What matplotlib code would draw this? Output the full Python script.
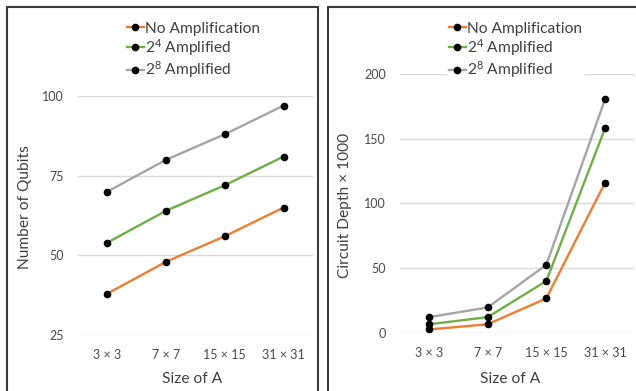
import numpy as np
import matplotlib
matplotlib.use('Agg')
import matplotlib.pyplot as plt
from matplotlib.patches import Rectangle

# data
sizes = ['3 × 3', '7 × 7', '15 × 15', '31 × 31']
series_names = ['No Amplification', '2$^{4}$ Amplified', '2$^{8}$ Amplified']
colors = ['#ED7D31', '#70AD47', '#A5A5A5']

qubits_none = [38, 48, 56, 65]
qubits_amp4 = [54, 64, 72, 81]
qubits_amp8 = [70, 80, 88, 97]

depth_none = [2.5, 6.5, 26.5, 116]
depth_amp4 = [6.5, 12, 40, 158]
depth_amp8 = [12, 19.5, 52.5, 180.5]

plt.rcParams['font.family'] = ['Lato', 'DejaVu Sans']
plt.rcParams['mathtext.default'] = 'regular'

W, H = 636, 391
fig = plt.figure(figsize=(W / 100, H / 100), dpi=100)

def px_axes(x0, x1, ytop, ybot):
      return fig.add_axes([x0 / W, 1 - ybot / H, (x1 - x0) / W, (ybot - ytop) / H])

def style_axes(ax, yticks):
      x = np.arange(len(sizes))
      ax.set_xlim(-0.5, len(sizes) - 0.5)
      ax.set_xticks(x)
      ax.set_xticklabels(sizes)
      ax.set_yticks(yticks)
      for s in ax.spines.values():
            s.set_visible(False)
      ax.tick_params(length=0, labelsize=9, labelcolor='#4A4A4A')
      ax.tick_params(axis='x', pad=10)
      ax.tick_params(axis='y', pad=10)
      ax.grid(axis='y', color='#D9D9D9', linewidth=1)
      ax.set_axisbelow(True)

def draw_lines(ax, data):
      x = np.arange(len(sizes))
      for vals, name, c in zip(data, series_names, colors):
            ax.plot(x, vals, color=c, linewidth=1.7, marker='o', markersize=4.5,
                    markerfacecolor='black', markeredgecolor='black', label=name)

# left panel: qubits
ax1 = px_axes(78, 313, 96, 335)
draw_lines(ax1, [qubits_none, qubits_amp4, qubits_amp8])
ax1.set_ylim(25, 100)
style_axes(ax1, [25, 50, 75, 100])
ax1.set_ylabel('Number of Qubits', fontsize=11.2, color='#404040', va='center')
ax1.yaxis.set_label_coords(-0.2255, 0.5356)
ax1.set_xlabel('Size of A', fontsize=11.2, color='#404040', va='center')
ax1.xaxis.set_label_coords(0.485, -0.184)

# right panel: depth
ax2 = px_axes(399.6, 634.4, 74, 332.7)
draw_lines(ax2, [depth_none, depth_amp4, depth_amp8])
ax2.set_ylim(0, 200)
style_axes(ax2, [0, 50, 100, 150, 200])
ax2.set_ylabel('Circuit Depth × 1000', fontsize=11.2, color='#404040', va='center')
ax2.yaxis.set_label_coords(-0.2325, 0.4936)
ax2.set_xlabel('Size of A', fontsize=11.2, color='#404040', va='center')
ax2.xaxis.set_label_coords(0.470, -0.179)

for ax, lx in [(ax1, 125), (ax2, 447)]:
      leg = ax.legend(loc='upper left', bbox_to_anchor=(lx / W, 1 - 20 / H),
                      bbox_transform=fig.transFigure, frameon=True, fontsize=11.2,
                      handlelength=1.1, handletextpad=0.1, labelspacing=0.1,
                      borderpad=0.1, borderaxespad=0)
      leg.get_frame().set_edgecolor('white')
      leg.get_frame().set_facecolor('white')
      leg.get_frame().set_alpha(1)
      for t in leg.get_texts():
            t.set_color('#404040')

# chart frames
fig.patches.append(Rectangle((7 / W, -0.1), (318 - 7) / W, 1.1 - 7 / H,
                             transform=fig.transFigure, fill=False,
                             edgecolor='#3A3A3A', linewidth=1.5))
fig.patches.append(Rectangle((328 / W, -0.1), 0.6, 1.1 - 7 / H,
                             transform=fig.transFigure, fill=False,
                             edgecolor='#3A3A3A', linewidth=1.5))

fig.savefig('out.png', dpi=100)
